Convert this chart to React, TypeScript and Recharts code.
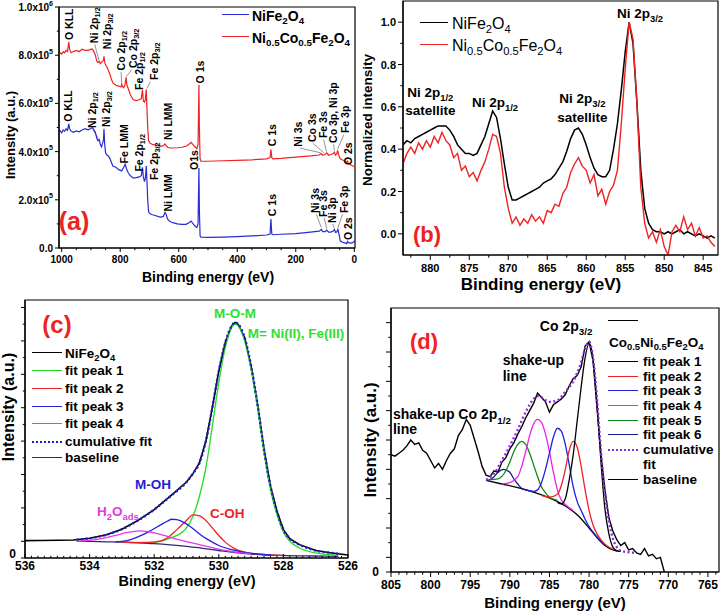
import React from "react";
import { LineChart, Line, XAxis, YAxis, ReferenceArea, ReferenceDot, ReferenceLine } from "recharts";

const FONT = '"Liberation Sans", Arial, Helvetica, sans-serif';

// (a) survey spectra: [binding energy (eV), intensity / 1e5]
const surveyNiFe: number[][] = [
  [1009, 4.82], [1005, 4.86], [1000, 4.78], [995, 4.9], [990, 4.84], [985, 4.95], [980, 4.88], [976, 5.15], [973, 4.95],
  [968, 4.85], [960, 4.8], [950, 4.86], [940, 4.82], [930, 4.9], [920, 4.95], [910, 4.9], [900, 4.96], [895, 5.0],
  [890, 4.9], [885, 4.8], [880, 4.55], [876, 4.45], [872, 4.5], [868, 4.3], [864, 4.2], [860, 4.35], [857, 4.5],
  [855.5, 4.95], [853, 4.3], [850, 3.95], [845, 3.85], [840, 3.82], [835, 3.7], [830, 3.55], [825, 3.4], [815, 3.35],
  [805, 3.25], [795, 3.2], [788, 3.35], [783, 3.48], [779, 3.3], [772, 3.1], [765, 3.0], [755, 2.9], [745, 2.92],
  [735, 2.95], [728, 3.0], [724, 3.35], [721, 2.95], [717, 2.75], [714, 2.9], [711, 3.4], [709, 2.9], [706, 2.0],
  [703, 1.5], [698, 1.42], [690, 1.38], [680, 1.35], [670, 1.3], [660, 1.28], [652, 1.32], [647, 1.48], [643, 1.4],
  [638, 1.2], [630, 1.1], [620, 1.05], [605, 1.0], [590, 0.98], [575, 0.98], [565, 1.05], [558, 1.12], [552, 1.02],
  [545, 0.92], [538, 0.85], [534, 1.0], [531, 3.32], [529.5, 1.6], [527, 0.5], [524, 0.45], [500, 0.44], [450, 0.45],
  [400, 0.47], [350, 0.5], [300, 0.54], [288, 0.58], [285, 1.2], [282, 0.58], [278, 0.55], [250, 0.57], [200, 0.6],
  [150, 0.66], [120, 0.7], [113, 0.77], [108, 0.68], [100, 0.68], [94, 0.74], [88, 0.66], [80, 0.66], [72, 0.7],
  [68, 0.77], [64, 0.64], [60, 0.66], [56, 0.77], [53, 0.62], [48, 0.3], [40, 0.24], [30, 0.2], [26, 0.18], [23, 0.27],
  [20, 0.22], [12, 0.2], [5, 0.22], [0, 0.28], [-2, 0.3],
];
const surveyNiCo: number[][] = [
  [1009, 8.05], [1005, 8.1], [1000, 8.05], [995, 8.15], [990, 8.1], [985, 8.2], [980, 8.15], [976, 8.55], [973, 8.25],
  [968, 8.1], [960, 8.15], [950, 8.2], [940, 8.15], [930, 8.25], [920, 8.2], [910, 8.2], [900, 8.25], [895, 8.25],
  [890, 8.15], [885, 8.0], [880, 7.75], [876, 7.7], [872, 7.75], [868, 7.65], [864, 7.7], [860, 7.75], [857, 7.8],
  [855.5, 7.95], [853, 7.7], [850, 7.6], [845, 7.5], [840, 7.35], [835, 7.2], [830, 7.0], [825, 6.85], [815, 6.75],
  [805, 6.72], [797, 6.68], [795, 6.8], [792, 6.7], [788, 6.65], [784, 6.75], [780, 7.08], [777, 6.75], [772, 6.6],
  [765, 6.35], [755, 6.15], [745, 6.12], [735, 6.15], [728, 6.2], [724, 6.55], [721, 6.1], [717, 6.05], [714, 6.15],
  [711, 6.58], [709, 5.9], [706, 5.0], [703, 4.45], [698, 4.35], [690, 4.3], [680, 4.27], [670, 4.25], [660, 4.22],
  [652, 4.25], [647, 4.32], [643, 4.25], [638, 4.18], [630, 4.15], [620, 4.15], [605, 4.16], [590, 4.18], [575, 4.22],
  [565, 4.3], [558, 4.38], [552, 4.3], [545, 4.2], [538, 4.12], [534, 4.3], [531, 6.76], [529.5, 5.0], [527, 3.7],
  [524, 3.6], [500, 3.6], [450, 3.62], [400, 3.64], [350, 3.66], [300, 3.7], [288, 3.75], [285, 4.1], [282, 3.75],
  [278, 3.7], [250, 3.72], [200, 3.77], [150, 3.82], [120, 3.86], [113, 3.92], [108, 3.85], [100, 3.88], [94, 3.95],
  [88, 3.85], [80, 3.88], [72, 3.92], [68, 3.98], [64, 3.85], [60, 3.9], [57, 4.05], [53, 3.85], [48, 3.7], [40, 3.65],
  [30, 3.6], [26, 3.55], [23, 3.6], [20, 3.5], [12, 3.45], [5, 3.4], [0, 3.38], [-2, 3.42],
];
const aXMajor = [0, 200, 400, 600, 800, 1000];
const aXLabels = ["0", "200", "400", "600", "800", "1000"];
const aYMajor = [0, 2, 4, 6, 8, 10];
const aYLabels = ["0.0", "2.0x10^{5}", "4.0x10^{5}", "6.0x10^{5}", "8.0x10^{5}", "1.0x10^{6}"];
// peak names: [text, energy, intensity]
const aNotes: [string, number, number][] = [
  ["O KLL", 975, 8.63], ["Ni 2p_{1/2}", 889, 8.5], ["Ni 2p_{3/2}", 845, 8.25], ["Co 2p_{1/2}", 797, 7.37],
  ["Co 2p_{3/2}", 756, 7.47], ["Fe 2p_{1/2}", 735, 6.56], ["Fe 2p_{3/2}", 683.5, 6.97], ["Ni LMM", 637.4, 4.48],
  ["O 1s", 527, 6.83], ["C 1s", 282, 4.22], ["Ni 3s", 191, 4.2], ["Co 3s", 146, 4.4], ["Fe 3s", 108, 4.56],
  ["Co 3p, Ni 3p", 72, 4.36], ["Fe 3p", 32, 4.77], ["O 2s", 20, 3.44],
  ["O KLL", 977, 5.24], ["Ni 2p_{1/2}", 896, 4.98], ["Ni 2p_{3/2}", 849.6, 5.02], ["Fe LMM", 786, 3.51],
  ["Fe 2p_{1/2}", 735, 3.17], ["Fe 2p_{3/2}", 683.5, 2.82], ["Ni LMM", 637.4, 1.51], ["O1s", 547, 3.24],
  ["C 1s", 282, 1.32], ["Ni 3s", 134, 1.45], ["Fe 3s", 106, 1.29], ["Ni 3p", 77, 1.04], ["Fe 3p", 35, 1.45], ["O 2s", 20, 0.33],
];
const aLeaders: number[][] = [
  [887, 8.45, 873, 7.8], [797, 7.3, 795, 6.85], [760, 7.4, 780, 7.1], [697, 6.9, 709, 6.62],
  [186, 4.15, 115, 3.95], [142, 4.35, 104, 3.95], [105, 4.5, 95, 4.0], [71, 4.3, 68, 4.05], [36, 4.7, 57, 4.1],
  [893, 4.9, 875, 4.55], [130, 1.4, 113, 0.85], [103, 1.25, 94, 0.8], [74, 1.0, 68, 0.82], [40, 1.4, 56, 0.85],
];

// (b) Ni 2p region, normalized
const bEnergy = [
  883.5, 883, 882.5, 882, 881.5, 881, 880.5, 880, 879.5, 879, 878.5, 878, 877.5, 877, 876.5, 876, 875.5, 875, 874.5, 874,
  873.5, 873, 872.5, 872, 871.5, 871, 870.5, 870, 869.5, 869, 868.5, 868, 867.5, 867, 866.5, 866, 865.5, 865, 864.5, 864,
  863.5, 863, 862.5, 862, 861.5, 861, 860.5, 860, 859.5, 859, 858.5, 858, 857.5, 857, 856.5, 856, 855.5, 855, 854.5, 854,
  853.5, 853, 852.5, 852, 851.5, 851, 850.5, 850, 849.5, 849, 848.5, 848, 847.5, 847, 846.5, 846, 845.5, 845, 844.5, 844, 843.5,
];
const bNiFe = [
  0.42, 0.44, 0.43, 0.45, 0.46, 0.47, 0.48, 0.49, 0.5, 0.51, 0.51, 0.51, 0.49, 0.46, 0.42, 0.4, 0.38, 0.38, 0.37, 0.38,
  0.42, 0.46, 0.52, 0.58, 0.55, 0.45, 0.33, 0.22, 0.16, 0.16, 0.17, 0.18, 0.19, 0.2, 0.21, 0.22, 0.24, 0.25, 0.26, 0.28,
  0.31, 0.34, 0.39, 0.45, 0.49, 0.5, 0.47, 0.42, 0.36, 0.31, 0.28, 0.27, 0.27, 0.3, 0.4, 0.52, 0.68, 0.86, 1.0, 0.9,
  0.62, 0.3, 0.12, 0.05, 0.02, 0.01, 0.01, 0.0, 0.01, 0.0, 0.01, 0.02, 0.0, 0.01, 0.0, -0.01, 0.0, -0.01, -0.02, -0.01, -0.02,
];
const bNiCo = [
  0.33, 0.38, 0.41, 0.38, 0.43, 0.4, 0.44, 0.41, 0.46, 0.43, 0.48, 0.44, 0.42, 0.36, 0.38, 0.3, 0.32, 0.27, 0.29, 0.25,
  0.3, 0.34, 0.4, 0.47, 0.46, 0.38, 0.22, 0.12, 0.05, 0.08, 0.04, 0.07, 0.05, 0.09, 0.06, 0.08, 0.05, 0.11, 0.1, 0.14,
  0.13, 0.19, 0.22, 0.29, 0.33, 0.36, 0.32, 0.3, 0.24, 0.28, 0.18, 0.21, 0.14, 0.2, 0.23, 0.3, 0.52, 0.78, 1.0, 0.92,
  0.62, 0.22, 0.05, -0.02, 0.01, -0.04, 0.02, -0.06, -0.1, 0.01, 0.04, 0.01, 0.08, 0.02, 0.05, -0.01, 0.03, -0.02, -0.01, -0.04, -0.06,
];
const bXMajor = [845, 850, 855, 860, 865, 870, 875, 880];
const bXLabels = ["845", "850", "855", "860", "865", "870", "875", "880"];
const bYMajor = [0, 0.2, 0.4, 0.6, 0.8, 1.0];
const bYLabels = ["0.0", "0.2", "0.4", "0.6", "0.8", "1.0"];
const bNotes: [string, number, number][] = [
  ["Ni 2p_{3/2}", 853.1, 1.02], ["Ni 2p_{1/2}", 871.7, 0.6], ["Ni 2p_{1/2}", 880, 0.646], ["satellite", 880, 0.561],
  ["Ni 2p_{3/2}", 860.5, 0.618], ["satellite", 860.5, 0.528],
];

// (c) O 1s of NiFe2O4 (arb. units)
const cData: number[][] = [
  [536, 1.04], [535.5, 1.05], [535, 1.06], [534.5, 1.08], [534, 1.18], [533.5, 1.38], [533, 1.72], [532.5, 2.25],
  [532, 2.9], [531.5, 3.7], [531, 4.55], [530.8, 5.05], [530.6, 5.7], [530.4, 7.0], [530.2, 9.0], [530, 11.2],
  [529.8, 12.9], [529.6, 13.9], [529.5, 14.1], [529.4, 14.0], [529.2, 13.2], [529, 11.5], [528.8, 9.2], [528.6, 6.5],
  [528.4, 4.3], [528.2, 2.8], [528, 1.7], [527.8, 1.15], [527.5, 0.8], [527, 0.45], [526.5, 0.3], [526, 0.18],
];
const cCumulative: number[][] = [
  [534.4, 1.1], [534, 1.18], [533.5, 1.38], [533, 1.72], [532.5, 2.25], [532, 2.9], [531.5, 3.7], [531, 4.55],
  [530.8, 5.05], [530.6, 5.7], [530.4, 7.0], [530.2, 9.0], [530, 11.2], [529.8, 12.9], [529.6, 13.9], [529.5, 14.1],
  [529.4, 14.0], [529.2, 13.2], [529, 11.5], [528.8, 9.2], [528.6, 6.5], [528.4, 4.3], [528.2, 2.8], [528, 1.7],
  [527.8, 1.15], [527.5, 0.8], [527, 0.45], [526.5, 0.3], [526.3, 0.25],
];
const cBaseline: number[][] = [
  [534.4, 1.0], [534, 0.99], [533.5, 0.97], [533, 0.95], [532.5, 0.91], [532, 0.86], [531.5, 0.79], [531, 0.7],
  [530.5, 0.58], [530, 0.45], [529.5, 0.33], [529, 0.24], [528.5, 0.18], [528, 0.15], [527.5, 0.13], [527, 0.12], [526.3, 0.1],
];
const cPeak1: number[][] = [
  [533, 0.95], [532.5, 0.93], [532, 0.95], [531.8, 1.0], [531.5, 1.2], [531.2, 1.45], [531, 1.8], [530.8, 2.5],
  [530.6, 3.7], [530.4, 5.4], [530.2, 7.9], [530, 10.5], [529.8, 12.6], [529.6, 13.8], [529.5, 14.0], [529.4, 13.9],
  [529.2, 13.0], [529, 11.3], [528.8, 9.0], [528.6, 6.3], [528.4, 4.1], [528.2, 2.6], [528, 1.55], [527.8, 1.0],
  [527.5, 0.6], [527, 0.3], [526.3, 0.15],
];
const cPeak2: number[][] = [
  [533, 0.95], [532.5, 0.92], [532, 0.95], [531.6, 1.2], [531.3, 1.7], [531, 2.25], [530.8, 2.58], [530.6, 2.52],
  [530.4, 2.25], [530.2, 1.8], [530, 1.35], [529.8, 0.95], [529.5, 0.55], [529.2, 0.35], [529, 0.28], [528.5, 0.2], [528, 0.15],
];
const cPeak3: number[][] = [
  [533.2, 0.97], [533, 1.0], [532.7, 1.12], [532.4, 1.35], [532.1, 1.65], [531.8, 1.98], [531.6, 2.2], [531.45, 2.32],
  [531.3, 2.3], [531.1, 2.15], [530.9, 1.9], [530.7, 1.6], [530.5, 1.3], [530.2, 0.95], [530, 0.75], [529.6, 0.5],
  [529.2, 0.33], [528.8, 0.24], [528.4, 0.18],
];
const cPeak4: number[][] = [
  [534.4, 1.0], [534, 1.06], [533.6, 1.18], [533.2, 1.35], [532.9, 1.5], [532.6, 1.6], [532.45, 1.62], [532.2, 1.58],
  [532, 1.5], [531.7, 1.35], [531.4, 1.18], [531, 0.98], [530.6, 0.8], [530.2, 0.62], [529.8, 0.45], [529.4, 0.32], [529, 0.25],
];
const cXMajor = [526, 528, 530, 532, 534, 536];
const cXLabels = ["526", "528", "530", "532", "534", "536"];
const cYMajor = [0, 1, 3, 5, 7, 9, 11, 13, 15];
const cYLabels = ["0", "", "", "", "", "", "", "", ""];
const cNotes: [string, number, number, string, string][] = [
  ["M-O-M", 529.5, 14.35, "#2ee02e", "middle"], ["M= Ni(II), Fe(III)", 529.1, 13.15, "#2ee02e", "start"],
  ["M-OH", 532.04, 4.16, "#1f1fd0", "middle"], ["H_{2}O_{ads}", 533.77, 2.5, "#e03ce0", "start"],
  ["C-OH", 530.27, 2.37, "#ee2222", "start"],
];

// (d) Co 2p of Co0.5Ni0.5Fe2O4 (arb. units)
const dEnergy = [
  805, 804.5, 804, 803.5, 803, 802.5, 802, 801.5, 801, 800.5, 800, 799.5, 799, 798.5, 798, 797.5, 797, 796.5, 796, 795.5,
  795, 794.5, 794, 793.5, 793, 792.5, 792, 791.5, 791, 790.5, 790, 789.5, 789, 788.5, 788, 787.5, 787, 786.5, 786, 785.5,
  785, 784.5, 784, 783.5, 783, 782.5, 782, 781.5, 781, 780.5, 780, 779.5, 779, 778.5, 778, 777.5, 777, 776.5, 776, 775.5,
  775, 774.5, 774, 773.5, 773, 772.5, 772, 771.5, 771, 770.5,
];
const dCoNi = [
  8.0, 7.9, 8.1, 8.3, 8.6, 9.0, 8.7, 8.8, 8.3, 8.1, 7.6, 7.1, 7.4, 7.0, 7.6, 8.1, 8.4, 9.3, 9.7, 10.4,
  10.0, 9.1, 8.2, 7.2, 6.6, 6.5, 6.9, 6.8, 7.5, 7.8, 8.4, 8.8, 9.4, 9.9, 10.5, 11.0, 11.5, 12.2, 11.9, 11.6,
  10.9, 11.4, 11.6, 11.8, 12.1, 12.7, 13.2, 13.4, 14.0, 15.4, 15.7, 14.4, 11.2, 8.0, 5.6, 3.7, 2.8, 2.2, 1.8, 2.0,
  1.5, 1.6, 1.3, 1.2, 1.6, 1.1, 1.2, 0.9, 1.0, 0.0,
];
const dCumulative: number[][] = [
  [793, 6.3], [792, 6.7], [791, 7.6], [790, 8.6], [789, 9.7], [788, 10.9], [787, 11.8], [786.5, 12.0], [786, 11.9],
  [785, 11.6], [784, 11.7], [783, 12.3], [782, 13.0], [781, 14.3], [780.5, 15.2], [780, 15.7], [779.5, 14.6],
  [779, 11.8], [778.5, 8.2], [778, 5.4], [777.5, 3.5], [777, 2.3], [776.5, 1.7], [776, 1.45], [775, 1.35], [774, 1.3],
];
const dBaseline: number[][] = [
  [793, 6.25], [791, 6.0], [789, 5.75], [787, 5.45], [785, 5.05], [783, 4.5], [781.5, 3.9], [780, 3.0], [779, 2.35],
  [778, 1.8], [777, 1.5], [776, 1.4],
];
const dPeak1: number[][] = [
  [784, 4.75], [783.5, 4.65], [783, 5.0], [782.5, 6.3], [782, 8.0], [781.5, 10.3], [781, 12.6], [780.5, 14.6],
  [780, 15.6], [779.5, 14.5], [779, 11.5], [778.5, 7.5], [778, 4.3], [777.5, 2.6], [777, 1.7], [776.5, 1.45], [776, 1.4],
];
const dPeak2: number[][] = [
  [786, 5.2], [785, 5.1], [784, 5.3], [783.5, 5.9], [783, 7.0], [782.5, 8.3], [782, 8.9], [781.5, 8.5], [781, 7.2],
  [780.5, 5.6], [780, 4.2], [779.5, 3.2], [779, 2.6], [778, 1.9], [777, 1.55],
];
const dPeak3: number[][] = [
  [788, 5.6], [787, 5.5], [786.5, 5.6], [786, 6.1], [785.5, 7.0], [785, 8.1], [784.5, 9.2], [784, 9.8], [783.5, 9.6],
  [783, 8.7], [782.5, 7.3], [782, 5.8], [781.5, 4.8], [781, 4.2], [780.5, 3.6], [780, 3.1], [779, 2.4], [778, 1.85],
];
const dPeak4: number[][] = [
  [791, 6.0], [790, 6.1], [789, 6.5], [788.5, 7.2], [788, 8.2], [787.5, 9.3], [787, 10.1], [786.5, 10.4], [786, 10.2],
  [785.5, 9.4], [785, 8.2], [784.5, 6.8], [784, 5.6], [783.5, 4.9], [783, 4.6], [782, 4.2],
];
const dPeak5: number[][] = [
  [792.5, 6.3], [791.5, 6.35], [790.5, 6.9], [790, 7.5], [789.5, 8.2], [789, 8.7], [788.5, 8.9], [788, 8.7],
  [787.5, 8.1], [787, 7.3], [786.5, 6.5], [786, 5.8], [785.5, 5.4], [785, 5.1], [784, 4.9],
];
const dPeak6: number[][] = [
  [793, 6.25], [792.5, 6.3], [792, 6.5], [791.5, 6.8], [790.8, 7.0], [790, 6.8], [789.5, 6.35], [789, 6.0],
  [788.5, 5.7], [788, 5.6], [787, 5.45],
];
const dXMajor = [765, 770, 775, 780, 785, 790, 795, 800, 805];
const dXLabels = ["765", "770", "775", "780", "785", "790", "795", "800", "805"];
const dYMajor = [0, 1, 3, 5, 7, 9, 11, 13, 15, 17];
const dYLabels = ["0", "", "", "", "", "", "", "", "", ""];
const dNotes: [string, number, number, string][] = [
  ["Co 2p_{3/2}", 782.9, 16.45, "middle"], ["shake-up", 790.9, 14.1, "start"], ["line", 790.9, 13.0, "start"],
  ["shake-up", 804.75, 10.4, "start"], ["line", 804.75, 9.4, "start"], ["Co 2p_{1/2}", 796.5, 10.4, "start"],
];

const pts = (a: number[][]) => a.map(([e, v]) => ({ e, v }));
const zipPts = (xs: number[], ys: number[]) => xs.map((e, i) => ({ e, v: ys[i] }));
const steps = (a: number, b: number, s: number, skip: number[]) => {
  const out: number[] = [];
  for (let k = 0; a + k * s <= b + 1e-9; k++) {
    const v = Math.round((a + k * s) * 1000) / 1000;
    if (!skip.some((m) => Math.abs(m - v) < 1e-6)) out.push(v);
  }
  return out;
};

type Spec = { major: number[]; labels: string[]; minor: number[] };
const near = (a: number, b: number) => Math.abs(a - b) < 1e-6;

function svgRich(s: string, fs: number) {
  const parts = s.split(/(_\{[^}]*\}|\^\{[^}]*\})/).filter((p) => p !== "");
  let shift = 0;
  return parts.map((p, i) => {
    let target = 0;
    let txt = p;
    let size: number | undefined;
    if (p.startsWith("_{")) {
      target = fs * 0.3;
      txt = p.slice(2, -1);
      size = fs * 0.7;
    } else if (p.startsWith("^{")) {
      target = -fs * 0.45;
      txt = p.slice(2, -1);
      size = fs * 0.7;
    }
    const dy = target - shift;
    shift = target;
    return (
      <tspan key={i} dy={dy !== 0 ? dy : undefined} fontSize={size}>
        {txt}
      </tspan>
    );
  });
}

function htmlRich(s: string) {
  const parts = s.split(/(_\{[^}]*\}|\^\{[^}]*\})/).filter((p) => p !== "");
  return parts.map((p, i) => {
    if (p.startsWith("_{"))
      return <span key={i} style={{ fontSize: "0.7em", position: "relative", top: "0.35em" }}>{p.slice(2, -1)}</span>;
    if (p.startsWith("^{"))
      return <span key={i} style={{ fontSize: "0.7em", position: "relative", top: "-0.5em" }}>{p.slice(2, -1)}</span>;
    return <span key={i}>{p}</span>;
  });
}

function xTick(spec: Spec, fs: number, len: number, off: number, inward = false) {
  return (p: any) => {
    const v = p.payload.value;
    const i = spec.major.findIndex((m) => near(m, v));
    const L = i >= 0 ? len : len * 0.55;
    return (
      <g>
        <line x1={p.x} x2={p.x} y1={p.y} y2={p.y + (inward ? -L : L)} stroke="#000" strokeWidth={1} />
        {i >= 0 && spec.labels[i] !== "" && (
          <text x={p.x} y={p.y + off} textAnchor="middle" fontSize={fs} fontWeight="bold" fontFamily={FONT} fill="#000">
            {svgRich(spec.labels[i], fs)}
          </text>
        )}
      </g>
    );
  };
}

function yTick(spec: Spec, fs: number, len: number, off: number, lift = 0) {
  return (p: any) => {
    const v = p.payload.value;
    const i = spec.major.findIndex((m) => near(m, v));
    const L = i >= 0 ? len : len * 0.55;
    return (
      <g>
        <line x1={p.x} x2={p.x - L} y1={p.y} y2={p.y} stroke="#000" strokeWidth={1} />
        {i >= 0 && spec.labels[i] !== "" && (
          <text x={p.x - off} y={p.y - lift} dominantBaseline="central" textAnchor="end" fontSize={fs} fontWeight="bold" fontFamily={FONT} fill="#000">
            {svgRich(spec.labels[i], fs)}
          </text>
        )}
      </g>
    );
  };
}

function note(key: string, x: number, y: number, s: string, fs: number, color: string, anchor: string, rot = false) {
  return (
    <ReferenceDot
      key={key}
      x={x}
      y={y}
      r={0}
      ifOverflow="visible"
      shape={(p: any) => (
        <text
          x={p.cx}
          y={p.cy}
          transform={rot ? `rotate(-90 ${p.cx} ${p.cy})` : undefined}
          dominantBaseline={rot ? "central" : undefined}
          textAnchor={anchor as any}
          fontSize={fs}
          fontWeight="bold"
          fontFamily={FONT}
          fill={color}
        >
          {svgRich(s, fs)}
        </text>
      )}
    />
  );
}

function Txt(props: { x: number; y: number; s: string; fs: number; color?: string; bold?: boolean; mid?: boolean; rot?: boolean }) {
  const { x, y, s, fs, color = "#000", bold = true, mid = false, rot = false } = props;
  const tr = rot ? "translate(-50%,-50%) rotate(-90deg)" : mid ? "translate(-50%,-50%)" : "translate(0,-50%)";
  return (
    <div style={{ position: "absolute", left: x, top: y, transform: tr, fontSize: fs, fontWeight: bold ? "bold" : "normal", color, whiteSpace: "nowrap", lineHeight: 1 }}>
      {htmlRich(s)}
    </div>
  );
}

function Swatch(props: { x1: number; x2: number; y: number; color: string; w?: number; dotted?: boolean }) {
  const { x1, x2, y, color, w = 1.5, dotted = false } = props;
  return <div style={{ position: "absolute", left: x1, top: y - w / 2, width: x2 - x1, height: 0, borderTop: `${w}px ${dotted ? "dotted" : "solid"} ${color}` }} />;
}

const AX = { stroke: "#000", strokeWidth: 1.2 };
const RED = "#ee2222";
const BLUE = "#2a2ad6";

const aX: Spec = { major: aXMajor, labels: aXLabels, minor: steps(0, 1000, 50, aXMajor) };
const aY: Spec = { major: aYMajor, labels: aYLabels, minor: steps(1, 9, 2, []) };
const bX: Spec = { major: bXMajor, labels: bXLabels, minor: steps(847.5, 882.5, 5, []) };
const bY: Spec = { major: bYMajor, labels: bYLabels, minor: steps(0.1, 0.9, 0.2, []) };
const cX: Spec = { major: cXMajor, labels: cXLabels, minor: steps(526, 536, 0.2, cXMajor) };
const cY: Spec = { major: cYMajor, labels: cYLabels, minor: steps(2, 14, 2, []) };
const dX: Spec = { major: dXMajor, labels: dXLabels, minor: steps(764, 805, 1, dXMajor) };
const dY: Spec = { major: dYMajor, labels: dYLabels, minor: steps(2, 16, 2, []) };
const all = (s: Spec) => [...s.major, ...s.minor].sort((a, b) => a - b);

const A_X = [-2.4, 1009.2];
const B_X = [843.1, 883.5];
const C_X = [526, 536];
const D_X = [763.6, 805];

export default function App() {
  return (
    <div style={{ position: "absolute", left: 0, top: 0, width: 720, height: 612, background: "#fff", fontFamily: FONT, overflow: "hidden" }}>
      {/* (a) survey */}
      <div style={{ position: "absolute", left: 0, top: 0 }}>
        <LineChart width={360} height={300} margin={{ top: 7, right: 5, bottom: 22, left: 9 }}>
          <XAxis dataKey="e" type="number" domain={A_X} reversed allowDataOverflow ticks={all(aX)} interval={0} tick={xTick(aX, 10, 4, 15)} tickLine={false} tickSize={0} tickMargin={0} height={30} axisLine={AX} />
          <YAxis type="number" domain={[0, 10]} allowDataOverflow ticks={all(aY)} interval={0} tick={yTick(aY, 10, 4, 6)} tickLine={false} tickSize={0} tickMargin={0} width={50} axisLine={AX} />
          <ReferenceArea x1={A_X[0]} x2={A_X[1]} y1={0} y2={10} fill="none" stroke="#000" strokeWidth={1.2} ifOverflow="visible" />
          {aLeaders.map((l, i) => (
            <ReferenceLine key={"l" + i} segment={[{ x: l[0], y: l[1] }, { x: l[2], y: l[3] }]} stroke="#666" strokeWidth={0.7} ifOverflow="visible" />
          ))}
          <Line data={pts(surveyNiFe)} dataKey="v" type="linear" dot={false} stroke={BLUE} strokeWidth={1.2} isAnimationActive={false} />
          <Line data={pts(surveyNiCo)} dataKey="v" type="linear" dot={false} stroke={RED} strokeWidth={1.2} isAnimationActive={false} />
          {aNotes.map((n, i) => note("a" + i, n[1], n[2], n[0], 10.5, "#000", "start", true))}
        </LineChart>
      </div>

      {/* (b) Ni 2p */}
      <div style={{ position: "absolute", left: 360, top: 0 }}>
        <LineChart width={360} height={300} margin={{ top: 1, right: 2, bottom: 15, left: 7 }}>
          <XAxis dataKey="e" type="number" domain={B_X} reversed allowDataOverflow ticks={all(bX)} interval={0} tick={xTick(bX, 11, 5, 17)} tickLine={false} tickSize={0} tickMargin={0} height={30} axisLine={AX} />
          <YAxis type="number" domain={[-0.1, 1.1]} allowDataOverflow ticks={all(bY)} interval={0} tick={yTick(bY, 11, 5, 7)} tickLine={false} tickSize={0} tickMargin={0} width={36} axisLine={AX} />
          <ReferenceArea x1={B_X[0]} x2={B_X[1]} y1={-0.1} y2={1.1} fill="none" stroke="#000" strokeWidth={1.2} ifOverflow="visible" />
          <Line data={zipPts(bEnergy, bNiFe)} dataKey="v" type="linear" dot={false} stroke="#000" strokeWidth={1.5} isAnimationActive={false} />
          <Line data={zipPts(bEnergy, bNiCo)} dataKey="v" type="linear" dot={false} stroke={RED} strokeWidth={1.4} isAnimationActive={false} />
          {bNotes.map((n, i) => note("b" + i, n[1], n[2], n[0], 13.5, "#000", "middle"))}
        </LineChart>
      </div>

      {/* (c) O 1s */}
      <div style={{ position: "absolute", left: 0, top: 296 }}>
        <LineChart width={360} height={316} margin={{ top: 4, right: 12, bottom: 24, left: 7 }}>
          <XAxis dataKey="e" type="number" domain={C_X} reversed allowDataOverflow ticks={all(cX)} interval={0} tick={xTick(cX, 12, 4, 12, true)} tickLine={false} tickSize={0} tickMargin={0} height={30} axisLine={AX} />
          <YAxis type="number" domain={[0, 15.45]} allowDataOverflow ticks={all(cY)} interval={0} tick={yTick(cY, 12, 4, 9, 4)} tickLine={false} tickSize={0} tickMargin={0} width={18} axisLine={AX} />
          <ReferenceArea x1={C_X[0]} x2={C_X[1]} y1={0} y2={15.45} fill="none" stroke="#000" strokeWidth={1.2} ifOverflow="visible" />
          <Line data={pts(cData)} dataKey="v" type="linear" dot={false} stroke="#000" strokeWidth={1.6} isAnimationActive={false} />
          <Line data={pts(cBaseline)} dataKey="v" type="monotone" dot={false} stroke="#2a2a80" strokeWidth={1.3} isAnimationActive={false} />
          <Line data={pts(cPeak1)} dataKey="v" type="monotone" dot={false} stroke="#22dd22" strokeWidth={1.3} isAnimationActive={false} />
          <Line data={pts(cPeak2)} dataKey="v" type="monotone" dot={false} stroke={RED} strokeWidth={1.3} isAnimationActive={false} />
          <Line data={pts(cPeak3)} dataKey="v" type="monotone" dot={false} stroke="#2020e0" strokeWidth={1.3} isAnimationActive={false} />
          <Line data={pts(cPeak4)} dataKey="v" type="monotone" dot={false} stroke="#ee33ee" strokeWidth={1.3} isAnimationActive={false} />
          <Line data={pts(cCumulative)} dataKey="v" type="monotone" dot={false} stroke="#1f1fd0" strokeWidth={2.4} strokeDasharray="2 2.5" isAnimationActive={false} />
          {cNotes.map((n, i) => note("c" + i, n[1], n[2], n[0], 13.5, n[3], n[4]))}
        </LineChart>
      </div>

      {/* (d) Co 2p */}
      <div style={{ position: "absolute", left: 360, top: 300 }}>
        <LineChart width={360} height={312} margin={{ top: 8, right: 1, bottom: 10, left: 9 }}>
          <XAxis dataKey="e" type="number" domain={D_X} reversed allowDataOverflow ticks={all(dX)} interval={0} tick={xTick(dX, 12, 5, 17)} tickLine={false} tickSize={0} tickMargin={0} height={30} axisLine={AX} />
          <YAxis type="number" domain={[0, 18]} allowDataOverflow ticks={all(dY)} interval={0} tick={yTick(dY, 12, 5, 12)} tickLine={false} tickSize={0} tickMargin={0} width={22} axisLine={AX} />
          <ReferenceArea x1={D_X[0]} x2={D_X[1]} y1={0} y2={18} fill="none" stroke="#000" strokeWidth={1.2} ifOverflow="visible" />
          <Line data={zipPts(dEnergy, dCoNi)} dataKey="v" type="linear" dot={false} stroke="#000" strokeWidth={1.4} isAnimationActive={false} />
          <Line data={pts(dBaseline)} dataKey="v" type="monotone" dot={false} stroke="#000" strokeWidth={1.3} isAnimationActive={false} />
          <Line data={pts(dPeak6)} dataKey="v" type="monotone" dot={false} stroke="#1a1a90" strokeWidth={1.3} isAnimationActive={false} />
          <Line data={pts(dPeak5)} dataKey="v" type="monotone" dot={false} stroke="#118811" strokeWidth={1.3} isAnimationActive={false} />
          <Line data={pts(dPeak4)} dataKey="v" type="monotone" dot={false} stroke="#ee22ee" strokeWidth={1.3} isAnimationActive={false} />
          <Line data={pts(dPeak3)} dataKey="v" type="monotone" dot={false} stroke="#2020dd" strokeWidth={1.3} isAnimationActive={false} />
          <Line data={pts(dPeak2)} dataKey="v" type="monotone" dot={false} stroke={RED} strokeWidth={1.3} isAnimationActive={false} />
          <Line data={pts(dPeak1)} dataKey="v" type="monotone" dot={false} stroke="#000" strokeWidth={1.3} isAnimationActive={false} />
          <Line data={pts(dCumulative)} dataKey="v" type="monotone" dot={false} stroke="#8a2be2" strokeWidth={2.4} strokeDasharray="2 2.5" isAnimationActive={false} />
          {dNotes.map((n, i) => note("d" + i, n[1], n[2], n[0], 14, "#000", n[3]))}
        </LineChart>
      </div>

      {/* panel (a) text */}
      <Swatch x1={222} x2={249} y={15} color={BLUE} />
      <Txt x={252} y={16} s="NiFe_{2}O_{4}" fs={14} />
      <Swatch x1={222} x2={249} y={37} color={RED} />
      <Txt x={252} y={38} s="Ni_{0.5}Co_{0.5}Fe_{2}O_{4}" fs={14} />
      <Txt x={74} y={221} s="(a)" fs={25} color={RED} mid />
      <Txt x={208} y={277} s="Binding energy (eV)" fs={14} mid />
      <Txt x={10} y={135} s="Intensity (a.u.)" fs={13} rot />

      {/* panel (b) text */}
      <Swatch x1={420} x2={448} y={23} color="#000" />
      <Txt x={452} y={24} s="NiFe_{2}O_{4}" fs={16} bold={false} />
      <Swatch x1={420} x2={448} y={45} color={RED} />
      <Txt x={452} y={46} s="Ni_{0.5}Co_{0.5}Fe_{2}O_{4}" fs={16} bold={false} />
      <Txt x={427} y={235} s="(b)" fs={22} color={RED} mid />
      <Txt x={541} y={284} s="Binding energy (eV)" fs={17} mid />
      <Txt x={368} y={120} s="Normalized intensity" fs={13.5} rot />

      {/* panel (c) text */}
      <Txt x={57} y={325} s="(c)" fs={24} color={RED} mid />
      <Swatch x1={32} x2={62} y={353} color="#000" />
      <Txt x={65} y={354} s="NiFe_{2}O_{4}" fs={13.5} />
      <Swatch x1={32} x2={62} y={371} color="#22dd22" />
      <Txt x={65} y={371} s="fit peak 1" fs={13.5} />
      <Swatch x1={32} x2={62} y={389} color={RED} />
      <Txt x={65} y={389} s="fit peak 2" fs={13.5} />
      <Swatch x1={32} x2={62} y={407} color="#2020e0" />
      <Txt x={65} y={407} s="fit peak 3" fs={13.5} />
      <Swatch x1={32} x2={62} y={424} color="#ee33ee" />
      <Txt x={65} y={424} s="fit peak 4" fs={13.5} />
      <Swatch x1={32} x2={62} y={442} color="#1f1fd0" w={2.5} dotted />
      <Txt x={65} y={442} s="cumulative fit" fs={13.5} />
      <Swatch x1={32} x2={62} y={458} color="#2a2a80" />
      <Txt x={65} y={458} s="baseline" fs={13.5} />
      <Txt x={187} y={581} s="Binding energy (eV)" fs={14.5} mid />
      <Txt x={9} y={407} s="Intensity (a.u.)" fs={16} rot />

      {/* panel (d) text */}
      <Txt x={424} y={342} s="(d)" fs={22} color={RED} mid />
      <Swatch x1={608} x2={638} y={321} color="#000" />
      <Txt x={609} y={343} s="Co_{0.5}Ni_{0.5}Fe_{2}O_{4}" fs={13.5} />
      <Swatch x1={608} x2={638} y={362} color="#000" />
      <Txt x={643} y={362} s="fit peak 1" fs={13.5} />
      <Swatch x1={608} x2={638} y={377} color={RED} />
      <Txt x={643} y={377} s="fit peak 2" fs={13.5} />
      <Swatch x1={608} x2={638} y={391} color="#2020dd" />
      <Txt x={643} y={391} s="fit peak 3" fs={13.5} />
      <Swatch x1={608} x2={638} y={406} color="#ee22ee" />
      <Txt x={643} y={406} s="fit peak 4" fs={13.5} />
      <Swatch x1={608} x2={638} y={421} color="#118811" />
      <Txt x={643} y={421} s="fit peak 5" fs={13.5} />
      <Swatch x1={608} x2={638} y={435} color="#1a1a90" />
      <Txt x={643} y={435} s="fit peak 6" fs={13.5} />
      <Swatch x1={608} x2={638} y={450} color="#8a2be2" w={2.5} dotted />
      <Txt x={643} y={450} s="cumulative" fs={13.5} />
      <Txt x={643} y={465} s="fit" fs={13.5} />
      <Swatch x1={608} x2={638} y={480} color="#000" />
      <Txt x={643} y={480} s="baseline" fs={13.5} />
      <Txt x={555} y={602} s="Binding energy (eV)" fs={15} mid />
      <Txt x={370} y={440} s="Intensity (a.u.)" fs={17} rot />
    </div>
  );
}
